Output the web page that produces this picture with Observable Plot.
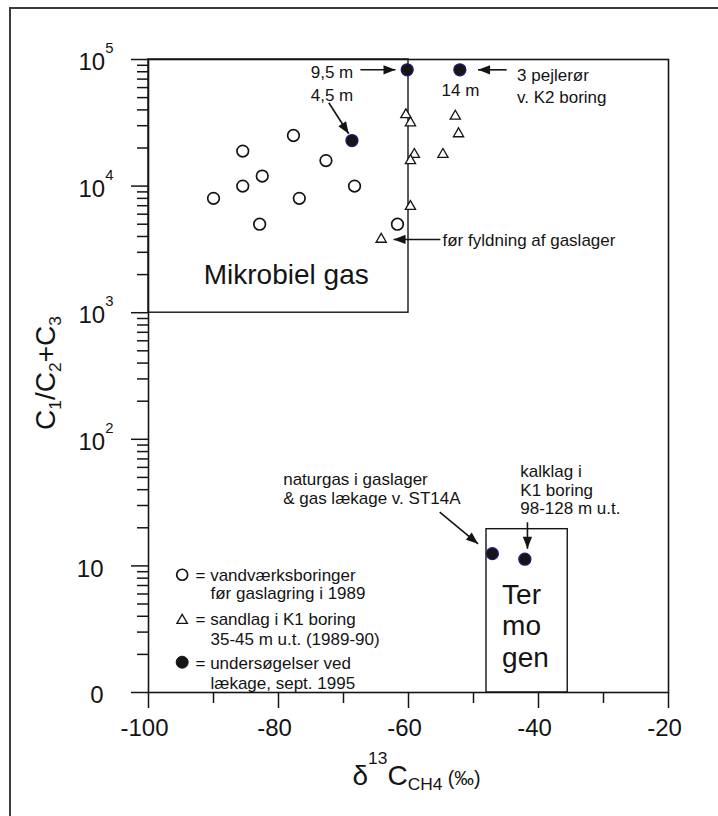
<!DOCTYPE html>
<html><head><meta charset="utf-8">
<script src="https://cdn.jsdelivr.net/npm/d3@7"></script>
<script src="https://cdn.jsdelivr.net/npm/@observablehq/plot@0.6"></script>
<style>
html,body{margin:0;padding:0;background:#fff;overflow:hidden;width:718px;height:816px;}
#wrap{position:relative;width:718px;height:816px;overflow:hidden;background:#fff;}
#outer{position:absolute;left:9px;top:7px;width:780px;height:880px;border:2px solid #3c3c3c;pointer-events:none;z-index:5;}
#wrap svg{position:absolute;left:0;top:0;}
</style></head><body><div id="wrap"><div id="outer"></div></div>
<script>
// ---------- data ----------
const openX = [-90, -85.5, -85.5, -82.5, -82.9, -77.7, -76.8, -72.7, -68.3, -61.7];
const openY = [8000, 18900, 10000, 12000, 5000, 25100, 8000, 15900, 10000, 5000];
const triX = [-60.4, -59.7, -52.8, -52.3, -59.1, -59.7, -54.7, -59.7, -64.2];
const triY = [36600, 31600, 35700, 25900, 17800, 15900, 17800, 6900, 3800];
const fillX = [-60.2, -52.1, -68.7, -47.1, -42.1];
const fillY = [82900, 82900, 22900, 12.5, 11.3];

const xMajorTicks = [-100, -80, -60, -40, -20];
const xMinorTicks = [-90, -70, -50, -30];
const xTickLabels = ["-100", "-80", "-60", "-40", "-20"];
const yMajorTicks = [1, 10, 100, 1000, 10000, 100000];
const yExpTicks = [100, 1000, 10000, 100000];
const yExpLabels = ["10^{2}", "10^{3}", "10^{4}", "10^{5}"];
const yPlainTicks = [10, 1];
const yPlainLabels = ["10", "0"];
const minorMultipliers = [2, 3, 4, 5, 6, 7, 8, 9];

const xTitle = "δ^{13}C_{CH4}~{ (‰)}";
const yTitle = "C_{1}/C_{2}+C_{3}";

// region boxes
const boxX1 = [-100, -48];
const boxX2 = [-60, -35.5];
const boxY1 = [1000, 1];
const boxY2 = [100000, 19.5];

// region labels
const regionText = ["Mikrobiel gas", "Ter", "mo", "gen"];
const regionX = [-91.5, -45.6, -45.6, -45.6];
const regionY = [1967, 5.91, 3.32, 1.87];

// annotations
const annText = ["9,5 m", "4,5 m", "14 m", "3 pejlerør", "v. K2 boring", "før fyldning af gaslager",
  "naturgas i gaslager", "& gas lækage v. ST14A", "kalklag i", "K1 boring", "98-128 m u.t."];
const annX = [-68.5, -68.5, -52, -43.3, -43.3, -54.77, -79.28, -79.28, -42.8, -42.8, -42.8];
const annY = [78400, 52200, 56900, 74300, 49700, 3740, 48.2, 33.8, 56.0, 39.6, 28.2];
const annAnchor = ["end", "end", "middle", "start", "start", "start", "start", "start", "start", "start", "start"];

// arrows (from -> tip)
const arrX1 = [-67.4, -72.26, -44.9, -55.1, -55.2, -41.7];
const arrY1 = [82900, 45500, 82900, 3790, 26.6, 22.1];
const arrX2 = [-62.0, -69.2, -49.3, -62.3, -49.3, -41.7];
const arrY2 = [82900, 25900, 82900, 3790, 14.95, 13.65];

// legend
const legSymbolX = -94.82;
const legSymbolY = [8.51, 3.71, 1.735];
const legSymbol = ["open", "triangle", "filled"];
const legText = ["= vandværksboringer", "før gaslagring i 1989", "= sandlag i K1 boring",
  "35-45 m u.t. (1989-90)", "= undersøgelser ved", "lækage, sept. 1995"];
const legTextX = [-92.77, -90.46, -92.77, -90.46, -92.77, -90.46];
const legTextY = [8.40, 6.01, 3.77, 2.62, 1.68, 1.17];

// ---------- layout ----------
const W = 718, H = 816, mT = 59, mR = 50, mB = 124, mL = 148;
const frameW = W - mL - mR, frameH = H - mT - mB;
const ink = "#141414";
const font = "'Liberation Sans', Arial, Helvetica, sans-serif";
const xDomain = [-100, -20], yDomain = [1, 100000];

const yMinorTicks = yMajorTicks.slice(0, -1).flatMap(d => minorMultipliers.map(k => k * d));
const idx = a => a.map((_, i) => i);

// arrow-head orientation from the same scales the plot uses
const sx = Plot.scale({x: {type: "linear", domain: xDomain, range: [mL, W - mR]}});
const sy = Plot.scale({y: {type: "log", domain: yDomain, range: [H - mB, mT]}});
const arrRot = idx(arrX1).map(i => {
  const dx = sx.apply(arrX2[i]) - sx.apply(arrX1[i]);
  const dy = sy.apply(arrY2[i]) - sy.apply(arrY1[i]);
  return Math.atan2(dx, -dy) * 180 / Math.PI;
});
const headSymbol = {draw(ctx) { ctx.moveTo(0, 0); ctx.lineTo(4.6, 12); ctx.lineTo(-4.6, 12); ctx.closePath(); }};

const plot = Plot.plot({
  width: W, height: H,
  marginTop: mT, marginRight: mR, marginBottom: mB, marginLeft: mL,
  x: {type: "linear", domain: xDomain, axis: null},
  y: {type: "log", domain: yDomain, axis: null},
  style: {fontFamily: font, color: ink, background: "transparent", overflow: "visible"},
  marks: [
    Plot.frame({stroke: ink, strokeWidth: 1.6}),
    // region boxes
    Plot.rect(idx(boxX1), {x1: i => boxX1[i], x2: i => boxX2[i], y1: i => boxY1[i], y2: i => boxY2[i],
      fill: "none", stroke: ink, strokeWidth: 1.4}),
    // x ticks
    Plot.tickX(xMajorTicks, {x: d => d, insetTop: frameH, insetBottom: -16, stroke: ink, strokeWidth: 1.5}),
    Plot.tickX(xMinorTicks, {x: d => d, insetTop: frameH, insetBottom: -11, stroke: ink, strokeWidth: 1.5}),
    // y ticks
    Plot.tickY(yMajorTicks, {y: d => d, insetLeft: -17, insetRight: frameW, stroke: ink, strokeWidth: 1.5}),
    Plot.tickY(yMinorTicks, {y: d => d, insetLeft: -11, insetRight: frameW, stroke: ink, strokeWidth: 1.5}),
    // x tick labels
    Plot.text(idx(xMajorTicks), {x: i => xMajorTicks[i], text: i => xTickLabels[i], frameAnchor: "bottom",
      lineAnchor: "middle", textAnchor: "middle", dy: 36, dx: -4, fontSize: 24, fill: ink}),
    // y tick labels
    Plot.text(idx(yExpTicks), {y: i => yExpTicks[i], text: i => yExpLabels[i], frameAnchor: "left",
      textAnchor: "end", lineAnchor: "middle", dx: -35, dy: 3, fontSize: 24, fill: ink}),
    Plot.text(idx(yPlainTicks), {y: i => yPlainTicks[i], text: i => yPlainLabels[i], frameAnchor: "left",
      textAnchor: "end", lineAnchor: "middle", dx: -45, dy: 3, fontSize: 24, fill: ink}),
    // axis titles
    Plot.text([xTitle], {frameAnchor: "bottom", textAnchor: "middle", lineAnchor: "bottom", dx: 8, dy: 92, fontSize: 28, fill: ink}),
    Plot.text([yTitle], {frameAnchor: "left", textAnchor: "middle", lineAnchor: "middle", rotate: -90, dx: -102, dy: -3, fontSize: 28, fill: ink}),
    // region labels
    Plot.text(idx(regionText), {x: i => regionX[i], y: i => regionY[i], text: i => regionText[i],
      textAnchor: "start", fontSize: 28, fill: ink}),
    // data
    Plot.dot(idx(openX), {x: i => openX[i], y: i => openY[i], r: 5.8, fill: "white", stroke: ink, strokeWidth: 1.7}),
    Plot.dot(idx(triX), {x: i => triX[i], y: i => triY[i], symbol: "triangle", r: 3.8, fill: "white", stroke: ink, strokeWidth: 1.3}),
    Plot.dot(idx(fillX), {x: i => fillX[i], y: i => fillY[i], r: 6, fill: "#151515", stroke: "#26186e", strokeWidth: 1.3}),
    // arrows: shafts + filled heads
    Plot.link(idx(arrX1), {x1: i => arrX1[i], y1: i => arrY1[i], x2: i => arrX2[i], y2: i => arrY2[i],
      stroke: ink, strokeWidth: 1.6}),
    Plot.dot(idx(arrX2), {x: i => arrX2[i], y: i => arrY2[i], rotate: i => arrRot[i], symbol: headSymbol,
      r: 4, fill: ink, stroke: "none"}),
    // annotations
    Plot.text(idx(annText), {x: i => annX[i], y: i => annY[i], text: i => annText[i],
      textAnchor: "start", lineAnchor: "middle", fontSize: 17, fill: ink}),
    // legend
    Plot.dot(idx(legSymbol).filter(i => legSymbol[i] === "open"), {x: () => legSymbolX, y: i => legSymbolY[i], r: 5.5, fill: "white", stroke: ink, strokeWidth: 1.7}),
    Plot.dot(idx(legSymbol).filter(i => legSymbol[i] === "triangle"), {x: () => legSymbolX, y: i => legSymbolY[i], symbol: "triangle", r: 3.9, fill: "white", stroke: ink, strokeWidth: 1.3}),
    Plot.dot(idx(legSymbol).filter(i => legSymbol[i] === "filled"), {x: () => legSymbolX, y: i => legSymbolY[i], r: 6, fill: "#151515", stroke: "#151515", strokeWidth: 1}),
    Plot.text(idx(legText), {x: i => legTextX[i], y: i => legTextY[i], text: i => legText[i],
      textAnchor: "start", lineAnchor: "middle", fontSize: 17, fill: ink})
  ]
});

document.getElementById("wrap").insertBefore(plot, document.getElementById("outer"));

const ns = "http://www.w3.org/2000/svg";

// per-annotation text anchors
plot.querySelectorAll("text").forEach(t => {
  const i = annText.indexOf(t.textContent);
  if (i >= 0) t.setAttribute("text-anchor", annAnchor[i]);
});

// rich text: ^{sup} _{sub} ~{small}
plot.querySelectorAll("text").forEach(t => {
  const s = t.textContent;
  if (!/[\^_~]\{/.test(s)) return;
  const fs = parseFloat(getComputedStyle(t).fontSize);
  while (t.firstChild) t.removeChild(t.firstChild);
  const re = /([\^_~])\{([^}]*)\}|([^\^_~]+)/g;
  let m, cur = 0;
  while ((m = re.exec(s))) {
    const ts = document.createElementNS(ns, "tspan");
    let target = 0, size = fs;
    if (m[1] === "^") { target = -0.72 * fs; size = 0.62 * fs; ts.textContent = m[2]; }
    else if (m[1] === "_") { target = 0.2 * fs; size = 0.62 * fs; ts.textContent = m[2]; }
    else if (m[1] === "~") { target = 0; size = 0.7 * fs; ts.textContent = m[2]; }
    else ts.textContent = m[3];
    ts.setAttribute("font-size", size);
    const d = target - cur;
    if (d) ts.setAttribute("dy", d);
    cur = target;
    t.appendChild(ts);
  }
});
</script>
</body></html>
